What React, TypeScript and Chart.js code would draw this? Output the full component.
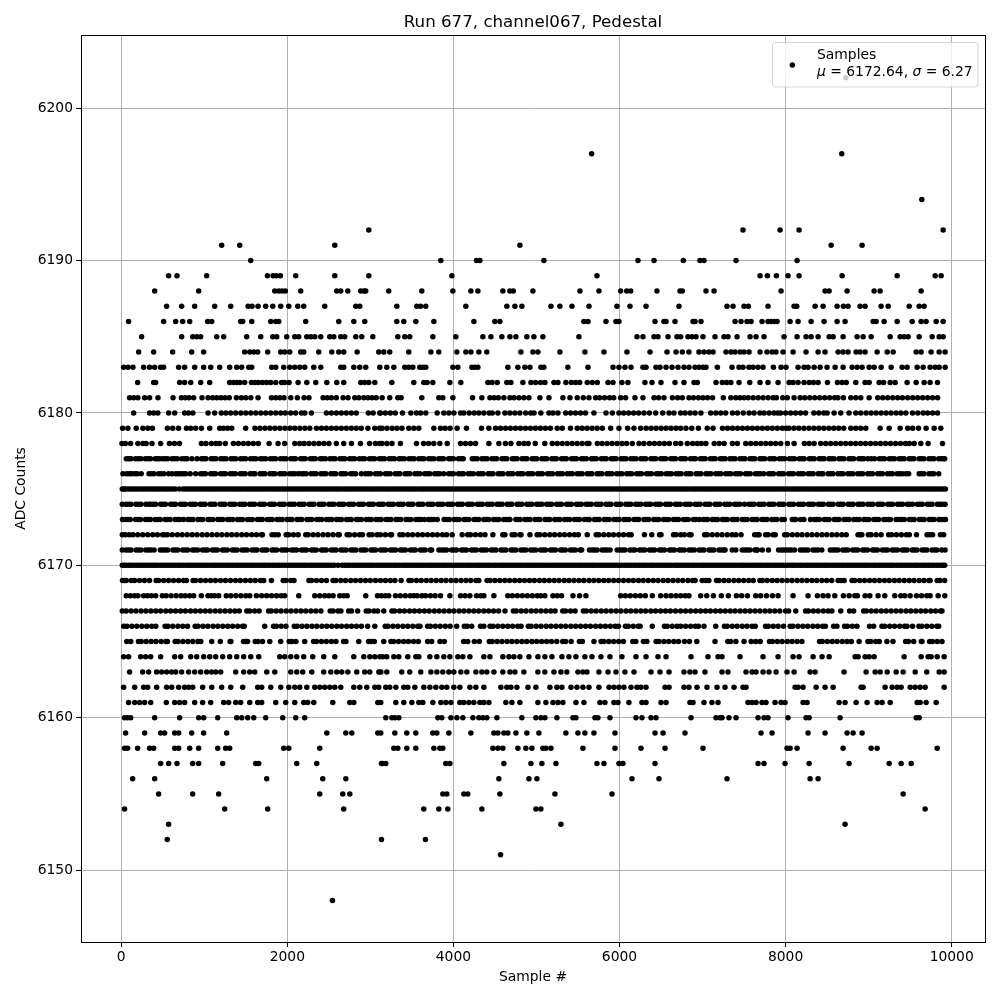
import React, { useEffect, useRef } from "react";
import { Chart, registerables } from "chart.js";

Chart.register(...registerables);

const xTicks = [0, 2000, 4000, 6000, 8000, 10000];
const yTicks = [6150, 6160, 6170, 6180, 6190, 6200];

const r6202 = [8724];
const r6197 = [5664, 8676];
const r6194 = [9640];
const r6192 = [2981, 7487, 7933, 8162, 9897];
const r6191 = [1209, 1426, 2571, 4800, 8548, 8921];
const r6190 = [1559, 3848, 4278, 4318, 5089, 6222, 6415, 6768, 6969, 7017, 7403, 8138];
const r6189 = [570, 671, 1028, 1760, 1828, 1868, 1916, 2101, 2571, 2981, 3981, 5728, 7692, 7780, 7889, 8029, 8162, 8680, 9343, 9801, 9873];
const r6188 = [402, 932, 1848, 1896, 1936, 1976, 2161, 2595, 2643, 2728, 2884, 2924, 2944, 3221, 3619, 3993, 4210, 4294, 4595, 4680, 4720, 4957, 5523, 5752, 6013, 6086, 6134, 6451, 6728, 6756, 7041, 7138, 7945, 8475, 8524, 8740, 9066, 9138, 9632];
const r6187 = [546, 727, 884, 1125, 1318, 1527, 1575, 1647, 1739, 1824, 1920, 2017, 2125, 2197, 2450, 2824, 2872, 3318, 3559, 3603, 3667, 4149, 4643, 4740, 4824, 5174, 5282, 5427, 5632, 5969, 6126, 6319, 6716, 7294, 7367, 7499, 7551, 7788, 8102, 8134, 8355, 8451, 8620, 8696, 8752, 8897, 8957, 9150, 9235, 9488, 9608, 9668];
const r6186 = [88, 510, 655, 739, 824, 1040, 1089, 1438, 1462, 1571, 1800, 1860, 1896, 2221, 2619, 2800, 2932, 3318, 3402, 3547, 3764, 4246, 4499, 4559, 5571, 5620, 5837, 5957, 5993, 6427, 6535, 6560, 6668, 6885, 6909, 6981, 7391, 7463, 7535, 7584, 7716, 7788, 7825, 7861, 7897, 8054, 8150, 8307, 8463, 8620, 8716, 9054, 9090, 9186, 9343, 9524, 9632, 9692, 9813, 9897];
const r6185 = [245, 727, 860, 908, 956, 1149, 1233, 1510, 1679, 1824, 1872, 1992, 2089, 2137, 2234, 2282, 2330, 2402, 2511, 2559, 2643, 2691, 2824, 2896, 3029, 3330, 3414, 3474, 3752, 4029, 4354, 4451, 4583, 4680, 4752, 4884, 4969, 5077, 5511, 6210, 6282, 6415, 6463, 6584, 6692, 6736, 6824, 6873, 6921, 7005, 7150, 7258, 7306, 7415, 7572, 7644, 7740, 7981, 8138, 8246, 8307, 8391, 8524, 8572, 8692, 8861, 8933, 9030, 9259, 9379, 9427, 9476, 9608, 9765, 9849, 9897];
const r6184 = [209, 390, 619, 848, 992, 1486, 1547, 1595, 1643, 1763, 1920, 1968, 2029, 2161, 2197, 2378, 2535, 2619, 2679, 2840, 3101, 3161, 3233, 3462, 3728, 3824, 4041, 4149, 4210, 4306, 4402, 4812, 4957, 5017, 5282, 5583, 5812, 6089, 6367, 6572, 6680, 6756, 6836, 6957, 7017, 7077, 7126, 7282, 7343, 7391, 7451, 7499, 7559, 7692, 7776, 7837, 7885, 7969, 8090, 8246, 8391, 8475, 8632, 8692, 8752, 8849, 8897, 8957, 9102, 9223, 9295, 9572, 9632, 9752, 9849, 9921];
const r6183 = [28, 80, 140, 269, 341, 402, 474, 510, 691, 763, 884, 992, 1077, 1185, 1305, 1390, 1450, 1535, 1571, 1812, 1860, 1956, 2029, 2089, 2149, 2209, 2318, 2402, 2643, 2679, 2800, 2872, 2944, 3113, 3197, 3282, 3414, 3462, 3511, 3595, 3631, 3667, 3993, 4053, 4222, 4258, 4294, 4655, 4776, 4860, 4921, 5053, 5089, 5378, 5620, 5921, 5993, 6065, 6138, 6282, 6319, 6439, 6487, 6560, 6632, 6704, 6776, 6836, 6909, 6957, 7005, 7041, 7178, 7355, 7439, 7487, 7559, 7608, 7668, 7728, 7853, 7945, 8005, 8150, 8222, 8270, 8343, 8415, 8499, 8596, 8692, 8801, 8861, 8921, 9006, 9066, 9150, 9271, 9403, 9463, 9584, 9656, 9740, 9801, 9849, 9921];
const r6182 = [197, 390, 414, 703, 763, 836, 956, 1065, 1305, 1350, 1390, 1430, 1486, 1567, 1610, 1650, 1700, 1750, 1800, 1860, 1930, 1968, 2020, 2129, 2234, 2342, 2475, 2595, 2679, 2884, 2930, 2980, 3053, 3258, 3523, 3643, 3683, 3752, 3957, 4089, 4415, 4465, 4527, 4643, 4692, 4836, 4933, 4989, 5049, 5101, 5210, 5258, 5354, 5419, 5470, 5520, 5611, 5672, 5732, 5861, 5921, 6029, 6101, 6306, 6391, 6499, 6668, 6776, 6897, 6937, 7162, 7238, 7290, 7340, 7439, 7568, 7692, 7788, 7909, 8042, 8090, 8150, 8222, 8283, 8335, 8391, 8504, 8624, 8680, 8730, 8845, 8957, 9006, 9126, 9180, 9259, 9319, 9463, 9572, 9668, 9740, 9829];
const r6181 = [100, 150, 200, 281, 341, 442, 623, 723, 770, 815, 872, 972, 1045, 1100, 1150, 1200, 1250, 1300, 1386, 1446, 1500, 1560, 1647, 1808, 1860, 1910, 1960, 2041, 2121, 2201, 2260, 2430, 2480, 2530, 2590, 2671, 2731, 2812, 2860, 2920, 2970, 3020, 3070, 3141, 3233, 3330, 3370, 3619, 3824, 3872, 3993, 4230, 4342, 4439, 4490, 4540, 4607, 4680, 4730, 4788, 4848, 4909, 5041, 5150, 5318, 5403, 5491, 5563, 5632, 5712, 5760, 5820, 5880, 5930, 6013, 6073, 6186, 6282, 6415, 6470, 6535, 6636, 6700, 6756, 6836, 6890, 6950, 7005, 7060, 7120, 7250, 7340, 7400, 7451, 7500, 7550, 7610, 7670, 7730, 7790, 7850, 7889, 7965, 8020, 8102, 8175, 8230, 8290, 8350, 8410, 8470, 8530, 8590, 8630, 8696, 8785, 8845, 8905, 9006, 9110, 9170, 9230, 9290, 9350, 9406, 9470, 9530, 9590, 9650, 9710, 9770, 9830];
const r6180 = [149, 341, 390, 440, 570, 643, 763, 810, 862, 1045, 1125, 1205, 1260, 1318, 1378, 1440, 1500, 1560, 1620, 1680, 1740, 1800, 1860, 1920, 1975, 2040, 2100, 2170, 2210, 2290, 2470, 2530, 2590, 2650, 2710, 2770, 2830, 2975, 3033, 3113, 3121, 3180, 3240, 3300, 3387, 3487, 3555, 3604, 3667, 3804, 3884, 3945, 4005, 4085, 4125, 4190, 4250, 4306, 4366, 4430, 4467, 4535, 4620, 4680, 4740, 4800, 4870, 4930, 4970, 5053, 5150, 5198, 5258, 5352, 5410, 5470, 5530, 5590, 5692, 5837, 5913, 5993, 6050, 6110, 6170, 6230, 6294, 6360, 6435, 6520, 6596, 6655, 6736, 6790, 6850, 6910, 6980, 7098, 7160, 7218, 7278, 7360, 7420, 7490, 7560, 7620, 7690, 7740, 7801, 7860, 7905, 7940, 8000, 8060, 8120, 8180, 8240, 8340, 8400, 8460, 8500, 8584, 8664, 8764, 8845, 8905, 8969, 9030, 9090, 9150, 9210, 9270, 9331, 9388, 9448, 9528, 9592, 9656, 9710, 9770, 9830];
const r6179 = [16, 80, 180, 260, 320, 375, 555, 620, 690, 785, 835, 895, 965, 1065, 1185, 1230, 1280, 1330, 1498, 1610, 1670, 1730, 1790, 1850, 1910, 1970, 2030, 2090, 2150, 2210, 2270, 2350, 2410, 2470, 2530, 2590, 2650, 2710, 2770, 2830, 2890, 2970, 3053, 3113, 3141, 3200, 3262, 3320, 3380, 3462, 3523, 3583, 3764, 3844, 3900, 3960, 4044, 4157, 4338, 4427, 4507, 4567, 4627, 4687, 4747, 4807, 4867, 4927, 4987, 5047, 5107, 5167, 5250, 5310, 5410, 5491, 5550, 5610, 5670, 5730, 5793, 5893, 5993, 6098, 6174, 6254, 6320, 6380, 6440, 6500, 6560, 6620, 6680, 6736, 6800, 6870, 6950, 7056, 7126, 7240, 7300, 7360, 7420, 7480, 7540, 7600, 7660, 7720, 7780, 7840, 7900, 7960, 8006, 8040, 8100, 8160, 8220, 8280, 8340, 8400, 8460, 8520, 8580, 8640, 8700, 8785, 8845, 8905, 8965, 9138, 9247, 9379, 9470, 9530, 9600, 9692, 9789, 9869];
const r6178 = [8, 50, 112, 200, 260, 300, 370, 474, 580, 640, 700, 965, 1020, 1085, 1140, 1185, 1253, 1350, 1410, 1470, 1530, 1590, 1650, 1780, 1888, 1968, 2090, 2150, 2202, 2260, 2320, 2380, 2440, 2500, 2590, 2679, 2772, 2880, 2990, 3060, 3113, 3141, 3200, 3260, 3362, 3555, 3640, 3700, 3763, 3836, 3925, 4085, 4145, 4205, 4266, 4427, 4547, 4627, 4692, 4788, 4848, 4900, 4985, 5100, 5190, 5250, 5310, 5370, 5430, 5490, 5550, 5610, 5632, 5733, 5790, 5850, 5910, 5970, 6030, 6085, 6154, 6235, 6294, 6360, 6420, 6480, 6540, 6600, 6676, 6736, 6816, 6880, 6936, 6985, 7040, 7140, 7200, 7260, 7359, 7419, 7520, 7580, 7640, 7700, 7760, 7820, 7880, 7941, 8022, 8102, 8226, 8283, 8343, 8423, 8483, 8543, 8603, 8663, 8723, 8783, 8843, 8903, 8963, 9023, 9083, 9143, 9203, 9263, 9323, 9383, 9443, 9490, 9548, 9628, 9716, 9889];
const r6177 = [60, 118, 172, 236, 290, 352, 410, 462, 500, 560, 612, 674, 730, 792, 850, 912, 965, 1020, 1082, 1140, 1198, 1262, 1320, 1378, 1436, 1498, 1556, 1620, 1676, 1738, 1796, 1858, 1916, 1982, 2040, 2098, 2160, 2216, 2278, 2336, 2396, 2458, 2512, 2574, 2632, 2692, 2750, 2810, 2868, 2930, 2988, 3050, 3108, 3168, 3226, 3288, 3346, 3408, 3464, 3526, 3582, 3644, 3702, 3764, 3822, 3880, 3942, 4000, 4060, 4118, 4226, 4286, 4342, 4404, 4462, 4520, 4584, 4642, 4708, 4766, 4826, 4884, 4946, 5002, 5064, 5122, 5184, 5240, 5302, 5360, 5422, 5480, 5542, 5600, 5662, 5720, 5780, 5840, 5900, 5958, 6018, 6078, 6136, 6198, 6256, 6316, 6378, 6436, 6496, 6556, 6616, 6674, 6736, 6794, 6854, 6914, 6974, 7032, 7094, 7152, 7212, 7272, 7330, 7392, 7450, 7510, 7570, 7628, 7690, 7748, 7808, 7868, 7926, 7988, 8046, 8106, 8166, 8224, 8286, 8344, 8404, 8464, 8522, 8584, 8642, 8702, 8762, 8820, 8882, 8942, 8990, 9070, 9130, 9190, 9248, 9310, 9368, 9428, 9488, 9546, 9608, 9666, 9726, 9786, 9844, 9904, 9915];
const r6176 = [20, 66, 124, 190, 240, 334, 394, 450, 512, 570, 610, 656, 716, 776, 830, 896, 956, 1014, 1076, 1134, 1194, 1254, 1312, 1374, 1432, 1492, 1552, 1610, 1672, 1730, 1790, 1850, 1908, 1970, 2028, 2088, 2130, 2166, 2226, 2284, 2346, 2404, 2464, 2524, 2582, 2644, 2702, 2762, 2822, 2890, 2940, 3000, 3060, 3120, 3180, 3238, 3298, 3356, 3418, 3476, 3536, 3596, 3654, 3716, 3774, 3834, 3882, 3942, 4000, 4060, 4120, 4178, 4240, 4298, 4358, 4418, 4476, 4538, 4596, 4656, 4716, 4774, 4836, 4894, 4954, 5014, 5072, 5134, 5192, 5252, 5312, 5370, 5432, 5490, 5550, 5610, 5668, 5730, 5788, 5848, 5908, 5966, 6028, 6086, 6146, 6206, 6264, 6326, 6384, 6444, 6504, 6562, 6624, 6682, 6742, 6802, 6860, 6922, 6980, 7040, 7100, 7158, 7220, 7278, 7340, 7396, 7456, 7516, 7574, 7636, 7694, 7736, 7796, 7854, 7916, 7974, 8034, 8094, 8152, 8214, 8272, 8332, 8392, 8450, 8512, 8570, 8630, 8690, 8748, 8810, 8868, 8928, 8988, 9046, 9108, 9166, 9226, 9286, 9344, 9406, 9450, 9482, 9608, 9666, 9726, 9784, 9844];
const f6176 = [96, 160, 364, 480, 686, 746, 984, 1104, 1224, 1342, 1462, 1582, 1700, 1820, 1938, 2058, 2196, 2316, 2434, 2554, 2672, 2792, 2970, 3090, 3208, 3328, 3448, 3566, 3686, 3804, 3972, 4090, 4208, 4328, 4448, 4566, 4686, 4806, 4924, 5044, 5162, 5282, 5402, 5520, 5640, 5758, 5878, 5998, 6116, 6236, 6354, 6474, 6594, 6712, 6832, 6950, 7070, 7190, 7310, 7426, 7546, 7666, 7826, 7944, 8064, 8184, 8302, 8422, 8540, 8660, 8778, 8898, 9016, 9138, 9256, 9376, 9636, 9756];
const f6177 = [88, 204, 322, 436, 530, 642, 762, 992, 1110, 1230, 1348, 1468, 1588, 1706, 1826, 1950, 2070, 2188, 2306, 2426, 2544, 2662, 2780, 2900, 3020, 3138, 3258, 3376, 3496, 3614, 3732, 3852, 3970, 4090, 4256, 4374, 4490, 4612, 4736, 4856, 4974, 5094, 5212, 5330, 5452, 5570, 5690, 5810, 5928, 6048, 6166, 6286, 6406, 6526, 6646, 6766, 6884, 7002, 7122, 7242, 7360, 7480, 7598, 7718, 7838, 7956, 8076, 8196, 8314, 8434, 8552, 8672, 8792, 8912, 9030, 9160, 9278, 9398, 9516, 9636, 9756, 9874];
const r6175 = [12, 50, 110, 168, 230, 288, 348, 408, 466, 528, 586, 650, 700, 745, 806, 864, 926, 984, 1044, 1104, 1162, 1224, 1282, 1342, 1402, 1460, 1522, 1580, 1640, 1700, 1758, 1820, 1878, 1938, 1998, 2056, 2118, 2176, 2236, 2296, 2354, 2416, 2474, 2534, 2594, 2652, 2714, 2772, 2832, 2892, 2950, 3012, 3070, 3130, 3190, 3248, 3310, 3368, 3428, 3488, 3546, 3608, 3666, 3726, 3786, 3844, 3906, 3964, 4024, 4084, 4142, 4204, 4262, 4322, 4382, 4440, 4502, 4560, 4620, 4680, 4738, 4800, 4858, 4918, 4978, 5036, 5098, 5156, 5216, 5276, 5334, 5396, 5454, 5514, 5574, 5632, 5694, 5752, 5812, 5872, 5930, 5992, 6050, 6110, 6170, 6228, 6290, 6348, 6408, 6468, 6526, 6588, 6646, 6706, 6766, 6824, 6886, 6944, 7004, 7064, 7122, 7184, 7242, 7302, 7362, 7420, 7482, 7540, 7600, 7660, 7718, 7780, 7838, 7898, 7958, 8016, 8078, 8136, 8196, 8256, 8314, 8376, 8434, 8494, 8554, 8612, 8674, 8732, 8792, 8852, 8910, 8972, 9030, 9090, 9150, 9208, 9270, 9328, 9388, 9448, 9506, 9568, 9626, 9686, 9746, 9804, 9866, 9924];
const f6175 = [30, 80, 140, 198, 260, 318, 378, 436, 498, 556, 618, 776, 834, 896, 954, 1014, 1074, 1132, 1194, 1252, 1312, 1372, 1430, 1492, 1550, 1610, 1670, 1728, 1790, 1848, 1908, 1968, 2026, 2088, 2146, 2206, 2266, 2324, 2386, 2444, 2504, 2564, 2622, 2684, 2742, 2802, 2862, 2920, 2982, 3040, 3100, 3160, 3218, 3280, 3338, 3398, 3458, 3516, 3578, 3636, 3696, 3756, 3814, 3876, 3934, 3994, 4054, 4112, 4174, 4232, 4292, 4352, 4410, 4472, 4530, 4590, 4650, 4708, 4770, 4828, 4888, 4948, 5006, 5068, 5126, 5186, 5246, 5304, 5366, 5424, 5484, 5544, 5602, 5664, 5722, 5782, 5842, 5900, 5962, 6020, 6080, 6140, 6198, 6260, 6318, 6378, 6438, 6496, 6558, 6616, 6676, 6736, 6794, 6856, 6914, 6974, 7034, 7092, 7154, 7212, 7272, 7332, 7390, 7452, 7510, 7570, 7630, 7688, 7750, 7808, 7868, 7928, 7986, 8048, 8106, 8166, 8226, 8284, 8346, 8404, 8464, 8524, 8582, 8644, 8702, 8762, 8822, 8880, 8942, 9000, 9060, 9120, 9178, 9240, 9298, 9358, 9418, 9476, 9538, 9596, 9656, 9716, 9774, 9836, 9895];
const r6174 = [12, 56, 116, 176, 236, 296, 330, 354, 414, 474, 532, 594, 652, 712, 772, 830, 892, 950, 1010, 1070, 1128, 1190, 1248, 1308, 1368, 1426, 1488, 1546, 1606, 1666, 1724, 1786, 1844, 1904, 1964, 2022, 2084, 2142, 2202, 2262, 2320, 2382, 2440, 2500, 2560, 2618, 2680, 2738, 2798, 2858, 2916, 2978, 3036, 3096, 3156, 3214, 3276, 3334, 3394, 3454, 3512, 3574, 3632, 3692, 3752, 3810, 3872, 3930, 3990, 4050, 4108, 4170, 4228, 4288, 4348, 4406, 4468, 4526, 4586, 4646, 4704, 4766, 4824, 4884, 4944, 5002, 5064, 5122, 5182, 5242, 5300, 5362, 5420, 5480, 5540, 5598, 5660, 5718, 5778, 5838, 5896, 5958, 6016, 6076, 6136, 6194, 6256, 6314, 6374, 6434, 6492, 6554, 6612, 6672, 6732, 6790, 6852, 6910, 6970, 7030, 7088, 7150, 7208, 7268, 7328, 7386, 7448, 7506, 7560, 7620, 7678, 7740, 7798, 7858, 7918, 7976, 8038, 8096, 8156, 8216, 8274, 8336, 8394, 8454, 8514, 8572, 8634, 8692, 8752, 8812, 8870, 8932, 8990, 9050, 9110, 9168, 9230, 9288, 9348, 9408, 9466, 9528, 9586, 9646, 9706, 9764, 9826, 9884, 9920];
const f6174 = [86, 206, 384, 502, 622, 742, 860, 980, 1100, 1218, 1338, 1456, 1576, 1696, 1814, 1934, 2052, 2172, 2292, 2410, 2530, 2648, 2768, 2888, 3006, 3126, 3244, 3364, 3484, 3602, 3722, 3840, 3960, 4080, 4198, 4318, 4436, 4556, 4676, 4794, 4914, 5032, 5152, 5272, 5390, 5510, 5628, 5748, 5868, 5986, 6106, 6224, 6344, 6464, 6582, 6702, 6820, 6940, 7060, 7178, 7298, 7416, 7590, 7708, 7828, 7946, 8066, 8186, 8304, 8424, 8542, 8662, 8782, 8900, 9020, 9138, 9258, 9378, 9496, 9616, 9734, 9854];
const r6173 = [15, 52, 108, 172, 230, 290, 350, 408, 470, 528, 588, 648, 706, 750, 804, 864, 924, 982, 1044, 1102, 1162, 1222, 1280, 1342, 1400, 1460, 1520, 1578, 1640, 1698, 1758, 1818, 1876, 1938, 1996, 2056, 2116, 2174, 2236, 2294, 2354, 2414, 2472, 2534, 2592, 2652, 2712, 2770, 2832, 2890, 2950, 3010, 3068, 3130, 3188, 3248, 3308, 3366, 3428, 3486, 3546, 3606, 3650, 3700, 3760, 3805, 3888, 3950, 4008, 4068, 4128, 4186, 4248, 4306, 4366, 4426, 4484, 4546, 4604, 4664, 4680, 4752, 4804, 4862, 4922, 4982, 5040, 5102, 5160, 5220, 5280, 5338, 5400, 5458, 5518, 5578, 5636, 5698, 5756, 5816, 5876, 5934, 5996, 6054, 6114, 6174, 6232, 6294, 6352, 6412, 6472, 6530, 6592, 6650, 6710, 6770, 6828, 6890, 6960, 7010, 7060, 7118, 7180, 7238, 7298, 7358, 7416, 7478, 7536, 7596, 7656, 7714, 7776, 7834, 7894, 7954, 7985, 8080, 8120, 8220, 8300, 8346, 8406, 8466, 8524, 8586, 8644, 8704, 8764, 8822, 8884, 8942, 9002, 9062, 9120, 9182, 9240, 9262, 9330, 9370, 9430, 9490, 9548, 9610, 9668, 9728, 9788, 9846, 9908, 9925];
const f6173 = [80, 200, 320, 438, 558, 676, 834, 952, 1072, 1190, 1310, 1430, 1548, 1668, 1788, 1906, 2026, 2144, 2264, 2384, 2502, 2622, 2740, 2860, 2980, 3098, 3218, 3336, 3456, 3576, 3730, 3918, 4038, 4156, 4276, 4396, 4514, 4634, 4778, 4892, 5012, 5130, 5250, 5370, 5488, 5608, 5726, 5846, 5964, 6084, 6204, 6322, 6442, 6560, 6680, 6800, 6918, 7034, 7148, 7268, 7388, 7506, 7626, 7744, 7864, 8108, 8180, 8376, 8494, 8614, 8734, 8852, 8972, 9090, 9210, 9400, 9518, 9638, 9758, 9876];
const r6172 = [12, 50, 95, 140, 198, 258, 318, 378, 436, 498, 520, 556, 614, 676, 734, 794, 854, 912, 974, 1032, 1092, 1152, 1210, 1272, 1330, 1390, 1450, 1508, 1570, 1628, 1688, 1700, 1815, 1850, 1890, 1985, 2016, 2074, 2130, 2222, 2250, 2310, 2368, 2430, 2488, 2548, 2608, 2625, 2720, 2750, 2810, 2870, 2905, 2985, 3020, 3080, 3121, 3180, 3240, 3255, 3355, 3390, 3450, 3508, 3570, 3628, 3688, 3748, 3806, 3868, 3918, 3985, 4105, 4172, 4205, 4265, 4325, 4380, 4475, 4594, 4620, 4707, 4740, 4800, 4813, 4921, 5008, 5040, 5100, 5160, 5218, 5280, 5338, 5398, 5458, 5504, 5611, 5719, 5750, 5810, 5870, 5928, 5990, 6048, 6108, 6140, 6300, 6388, 6482, 6500, 6650, 6680, 6736, 6780, 6840, 6862, 7024, 7056, 7116, 7176, 7234, 7296, 7354, 7400, 7463, 7627, 7660, 7681, 7759, 7790, 7850, 7875, 7988, 8020, 8080, 8140, 8198, 8260, 8318, 8378, 8438, 8496, 8558, 8616, 8676, 8730, 8872, 8900, 8918, 8996, 9030, 9090, 9150, 9240, 9276, 9334, 9394, 9454, 9490, 9576, 9703, 9736, 9770, 9864, 9903];
const r6171 = [12, 58, 118, 178, 238, 296, 358, 395, 470, 502, 560, 622, 680, 740, 800, 858, 920, 978, 1038, 1098, 1156, 1218, 1276, 1336, 1396, 1454, 1516, 1574, 1634, 1694, 1752, 1814, 1872, 1932, 1992, 2050, 2112, 2170, 2230, 2290, 2348, 2410, 2468, 2528, 2588, 2646, 2708, 2766, 2826, 2886, 2944, 3006, 3064, 3124, 3184, 3242, 3304, 3362, 3422, 3482, 3540, 3602, 3660, 3720, 3737, 3825, 3858, 3918, 3978, 4036, 4098, 4156, 4216, 4276, 4334, 4396, 4454, 4514, 4574, 4632, 4694, 4752, 4812, 4872, 4930, 4992, 5050, 5110, 5170, 5228, 5290, 5348, 5408, 5468, 5526, 5544, 5638, 5672, 5730, 5790, 5850, 5886, 5972, 6006, 6064, 6124, 6184, 6242, 6304, 6362, 6422, 6482, 6540, 6602, 6660, 6720, 6780, 6838, 6900, 6958, 7018, 7078, 7136, 7198, 7256, 7271, 7357, 7400, 7478, 7510, 7570, 7630, 7653, 7719, 7793, 7916, 7950, 8010, 8070, 8107, 8177, 8210, 8270, 8330, 8390, 8436, 8538, 8570, 8630, 8688, 8750, 8808, 8868, 8928, 8986, 9048, 9106, 9166, 9226, 9284, 9346, 9404, 9464, 9524, 9582, 9644, 9702, 9762, 9822, 9880, 9920];
const f6171 = [88, 208, 328, 530, 650, 770, 888, 1008, 1128, 1246, 1366, 1484, 1604, 1724, 1842, 1962, 2080, 2200, 2320, 2438, 2558, 2676, 2796, 2916, 3034, 3154, 3272, 3392, 3512, 3630, 3888, 4006, 4126, 4246, 4364, 4484, 4602, 4722, 4842, 4960, 5080, 5198, 5318, 5438, 5700, 5820, 6034, 6154, 6272, 6392, 6510, 6630, 6750, 6868, 6988, 7106, 7226, 7540, 7660, 7980, 8040, 8240, 8360, 8600, 8718, 8838, 8956, 9076, 9196, 9314, 9434, 9552, 9672, 9792];
const r6170 = [12, 60, 118, 180, 238, 298, 358, 416, 478, 536, 596, 656, 714, 776, 834, 894, 954, 1012, 1074, 1132, 1192, 1252, 1310, 1372, 1430, 1490, 1550, 1608, 1670, 1728, 1788, 1848, 1906, 1968, 2026, 2086, 2146, 2204, 2266, 2324, 2384, 2444, 2502, 2564, 2610, 2660, 2720, 2782, 2840, 2900, 2960, 3018, 3080, 3138, 3198, 3258, 3316, 3378, 3436, 3496, 3556, 3614, 3676, 3734, 3794, 3854, 3912, 3974, 4032, 4092, 4152, 4210, 4272, 4330, 4390, 4450, 4508, 4570, 4628, 4688, 4748, 4806, 4868, 4926, 4986, 5046, 5104, 5166, 5224, 5284, 5344, 5402, 5464, 5522, 5582, 5642, 5700, 5762, 5820, 5880, 5940, 5998, 6060, 6118, 6178, 6238, 6296, 6358, 6416, 6476, 6536, 6594, 6656, 6714, 6774, 6834, 6892, 6954, 7012, 7072, 7132, 7190, 7252, 7310, 7370, 7430, 7488, 7550, 7608, 7668, 7728, 7786, 7848, 7906, 7966, 8026, 8084, 8146, 8204, 8264, 8324, 8382, 8444, 8502, 8562, 8622, 8680, 8742, 8800, 8860, 8920, 8978, 9040, 9098, 9158, 9218, 9276, 9338, 9396, 9456, 9516, 9574, 9636, 9694, 9754, 9814, 9872, 9915];
const f6170 = [36, 90, 148, 210, 268, 328, 388, 446, 508, 566, 626, 686, 744, 806, 864, 924, 984, 1042, 1104, 1162, 1222, 1282, 1340, 1402, 1460, 1520, 1580, 1638, 1700, 1758, 1818, 1878, 1936, 1998, 2056, 2116, 2176, 2234, 2296, 2354, 2414, 2474, 2532, 2690, 2750, 2812, 2870, 2930, 2990, 3048, 3110, 3168, 3228, 3288, 3346, 3408, 3466, 3526, 3586, 3644, 3706, 3764, 3824, 3884, 3942, 4004, 4062, 4122, 4182, 4240, 4302, 4360, 4420, 4480, 4538, 4600, 4658, 4718, 4778, 4836, 4898, 4956, 5016, 5076, 5134, 5196, 5254, 5314, 5374, 5432, 5494, 5552, 5612, 5672, 5730, 5792, 5850, 5910, 5970, 6028, 6090, 6148, 6208, 6268, 6326, 6388, 6446, 6506, 6566, 6624, 6686, 6744, 6804, 6864, 6922, 6984, 7042, 7102, 7162, 7220, 7282, 7340, 7400, 7460, 7518, 7580, 7638, 7698, 7758, 7816, 7878, 7936, 7996, 8056, 8114, 8176, 8234, 8294, 8354, 8412, 8474, 8532, 8592, 8652, 8710, 8772, 8830, 8890, 8950, 9008, 9070, 9128, 9188, 9248, 9306, 9368, 9426, 9486, 9546, 9604, 9666, 9724, 9784, 9844, 9895];
const r6169 = [15, 40, 60, 120, 160, 220, 280, 340, 420, 450, 510, 570, 630, 690, 750, 785, 865, 895, 955, 1015, 1075, 1133, 1195, 1255, 1315, 1375, 1433, 1495, 1555, 1613, 1675, 1715, 1808, 1950, 1980, 2040, 2080, 2260, 2290, 2350, 2410, 2470, 2550, 2583, 2643, 2701, 2763, 2821, 2881, 2941, 2999, 3061, 3121, 3180, 3240, 3295, 3370, 3465, 3494, 3554, 3612, 3674, 3732, 3792, 3852, 3910, 3972, 4030, 4090, 4150, 4208, 4270, 4305, 4405, 4440, 4498, 4558, 4618, 4676, 4738, 4796, 4856, 4916, 4974, 5036, 5094, 5154, 5214, 5272, 5334, 5392, 5452, 5512, 5570, 5632, 5690, 5750, 5810, 5868, 5930, 5988, 6048, 6108, 6166, 6228, 6286, 6346, 6406, 6464, 6526, 6584, 6644, 6704, 6762, 6824, 6880, 6910, 6995, 7040, 7076, 7168, 7198, 7258, 7316, 7378, 7436, 7496, 7556, 7610, 7690, 7720, 7778, 7840, 7898, 7958, 8018, 8076, 8138, 8196, 8256, 8316, 8374, 8436, 8494, 8555, 8632, 8664, 8705, 8800, 8832, 8892, 8950, 9012, 9070, 9130, 9190, 9248, 9310, 9368, 9428, 9488, 9546, 9608, 9666, 9726, 9740, 9825, 9858, 9915];
const r6168 = [60, 110, 160, 201, 269, 315, 361, 414, 494, 540, 600, 660, 720, 770, 824, 872, 964, 1044, 1085, 1125, 1173, 1265, 1320, 1380, 1440, 1500, 1547, 1627, 1690, 1750, 1810, 1870, 1925, 1968, 2137, 2330, 2390, 2450, 2500, 2551, 2631, 2680, 2720, 2944, 3085, 3130, 3180, 3221, 3302, 3360, 3420, 3480, 3523, 3563, 3620, 3663, 3723, 3780, 3844, 3957, 4085, 4140, 4198, 4278, 4330, 4366, 4487, 4655, 4710, 4770, 4830, 4890, 4950, 5009, 5050, 5101, 5198, 5250, 5302, 5439, 5519, 5595, 6013, 6070, 6130, 6190, 6250, 6310, 6395, 6495, 6560, 6620, 6680, 6736, 6790, 6836, 6977, 7050, 7130, 7226, 7310, 7407, 7470, 7540, 7640, 7700, 7770, 7841, 7909, 8090, 8270, 8383, 8450, 8511, 8592, 8696, 8765, 8833, 8865, 8957, 9014, 9114, 9194, 9315, 9387, 9435, 9500, 9576, 9636, 9700, 9740, 9837, 9917];
const r6167 = [12, 58, 118, 176, 238, 296, 356, 416, 474, 536, 594, 654, 714, 772, 834, 892, 952, 1012, 1070, 1132, 1190, 1250, 1310, 1368, 1420, 1512, 1546, 1606, 1660, 1773, 1806, 1866, 1924, 1986, 2044, 2104, 2164, 2222, 2284, 2342, 2404, 2516, 2550, 2610, 2645, 2737, 2772, 2846, 2950, 2984, 3044, 3087, 3161, 3259, 3292, 3352, 3410, 3472, 3530, 3590, 3650, 3708, 3770, 3828, 3888, 3948, 4006, 4068, 4126, 4186, 4246, 4304, 4366, 4424, 4484, 4544, 4621, 4722, 4756, 4816, 4874, 4936, 4994, 5054, 5114, 5172, 5224, 5316, 5350, 5410, 5465, 5565, 5600, 5660, 5718, 5780, 5838, 5898, 5958, 6016, 6078, 6136, 6196, 6256, 6314, 6376, 6434, 6494, 6554, 6612, 6674, 6736, 6796, 6856, 6917, 6976, 7036, 7094, 7156, 7214, 7274, 7334, 7392, 7454, 7512, 7572, 7632, 7690, 7752, 7810, 7870, 7930, 8000, 8036, 8122, 8240, 8274, 8334, 8392, 8454, 8512, 8558, 8664, 8770, 8819, 8939, 8972, 9032, 9090, 9152, 9210, 9270, 9330, 9388, 9450, 9508, 9568, 9628, 9686, 9748, 9806, 9866, 9883];
const r6166 = [30, 68, 128, 186, 248, 306, 366, 416, 528, 562, 620, 682, 740, 798, 890, 924, 984, 1042, 1104, 1162, 1222, 1282, 1340, 1402, 1460, 1481, 1727, 1834, 1868, 1926, 1983, 2083, 2118, 2176, 2236, 2296, 2354, 2416, 2474, 2534, 2594, 2652, 2714, 2772, 2832, 2892, 2967, 3053, 3179, 3212, 3272, 3330, 3392, 3450, 3510, 3570, 3597, 3689, 3722, 3782, 3840, 3902, 3960, 4039, 4131, 4165, 4220, 4326, 4366, 4441, 4476, 4534, 4594, 4654, 4712, 4774, 4814, 4902, 4936, 4996, 5054, 5116, 5174, 5234, 5294, 5352, 5414, 5472, 5532, 5592, 5650, 5712, 5770, 5830, 5890, 5948, 5987, 6071, 6105, 6165, 6224, 6248, 6395, 6541, 6575, 6635, 6693, 6736, 6796, 6856, 6914, 6951, 7017, 7158, 7264, 7298, 7358, 7416, 7478, 7536, 7596, 7634, 7758, 7792, 7852, 7910, 7975, 8055, 8088, 8148, 8208, 8266, 8328, 8386, 8446, 8478, 8578, 8618, 8710, 8744, 8804, 8859, 9011, 9060, 9160, 9194, 9254, 9312, 9374, 9432, 9462, 9528, 9606, 9640, 9700, 9760, 9820, 9843];
const r6165 = [66, 114, 207, 240, 300, 360, 418, 480, 538, 556, 649, 682, 742, 802, 860, 922, 958, 1089, 1193, 1311, 1320, 1472, 1500, 1521, 1613, 1646, 1701, 1788, 1920, 2022, 2056, 2103, 2209, 2316, 2350, 2410, 2470, 2530, 2585, 2677, 2705, 2860, 2978, 3012, 3047, 3161, 3247, 3280, 3340, 3400, 3458, 3520, 3577, 3689, 3738, 3838, 3890, 4123, 4172, 4252, 4312, 4432, 4466, 4526, 4584, 4646, 4704, 4764, 4824, 4882, 4944, 5002, 5062, 5122, 5180, 5244, 5316, 5350, 5417, 5517, 5553, 5692, 5778, 5810, 5870, 5930, 5990, 6047, 6160, 6196, 6288, 6329, 6441, 6474, 6534, 6592, 6654, 6710, 6782, 6842, 6931, 7150, 7304, 7338, 7401, 7499, 7585, 7640, 7694, 7806, 7840, 7900, 7958, 8020, 8078, 8138, 8196, 8409, 8442, 8502, 8562, 8620, 8682, 8740, 8791, 8885, 8991, 9025, 9085, 9128, 9220, 9293, 9445, 9478, 9542, 9634, 9642, 9734, 9768, 9826, 9883];
const r6164 = [28, 88, 233, 293, 354, 474, 643, 715, 836, 908, 992, 1065, 1137, 1221, 1305, 1390, 1474, 1559, 1655, 1908, 1968, 2041, 2113, 2197, 2306, 2438, 2571, 2800, 2920, 2993, 3053, 3113, 3149, 3197, 3282, 3342, 3450, 3547, 3583, 3716, 3800, 3884, 3957, 4053, 4113, 4198, 4366, 4439, 4595, 4668, 4728, 4800, 4909, 5017, 5101, 5186, 5306, 5390, 5475, 5583, 5668, 5776, 5885, 6029, 6198, 6319, 6463, 6560, 6861, 7065, 7186, 7234, 7451, 7728, 7909, 8090, 8162, 8331, 8439, 8524, 8837, 8873, 8957, 9006, 9066, 9427, 9632, 9716, 9752, 9825, 9909];
const r6163 = [100, 257, 329, 426, 486, 546, 607, 655, 727, 811, 884, 956, 1028, 1089, 1137, 1197, 1378, 1474, 1547, 1607, 1751, 1848, 2041, 2113, 2185, 2294, 2438, 2523, 2595, 2655, 2728, 2836, 2932, 2993, 3101, 3125, 3197, 3378, 3474, 3607, 3728, 3800, 3872, 3945, 4005, 4089, 4161, 4270, 4342, 4402, 4487, 4595, 4680, 4740, 4848, 5017, 5101, 5210, 5294, 5366, 5499, 5559, 5608, 5752, 5861, 5957, 6065, 6174, 6379, 6487, 6596, 6776, 6848, 6909, 7029, 7234, 7306, 7523, 7596, 7644, 7728, 7800, 7885, 8017, 8102, 8295, 8355, 8704, 8969, 9078, 9138, 9223, 9331, 9415, 9560, 9700, 9849, 9909];
const r6162 = [28, 161, 269, 317, 426, 546, 607, 691, 763, 811, 860, 980, 1089, 1209, 1318, 1462, 1643, 1691, 1800, 1920, 2017, 2089, 2149, 2234, 2330, 2390, 2450, 2511, 2571, 2643, 2800, 2872, 2956, 3053, 3101, 3185, 3233, 3306, 3402, 3450, 3535, 3643, 3716, 3788, 3860, 3920, 4005, 4077, 4198, 4270, 4366, 4571, 4643, 4692, 4764, 4897, 4993, 5162, 5246, 5306, 5415, 5487, 5559, 5632, 5752, 5873, 5933, 5993, 6053, 6138, 6210, 6258, 6319, 6548, 6596, 6776, 6836, 6933, 7053, 7174, 7270, 7379, 7487, 7523, 8114, 8150, 8210, 8367, 8475, 8572, 8909, 8933, 9198, 9283, 9343, 9391, 9500, 9560, 9620, 9680, 9909];
const r6161 = [88, 161, 221, 281, 354, 542, 643, 703, 763, 884, 980, 1077, 1233, 1293, 1378, 1438, 1547, 1643, 1691, 1860, 1980, 2089, 2197, 2245, 2318, 2547, 2752, 2800, 3089, 3125, 3306, 3402, 3499, 3583, 3631, 3752, 3848, 3908, 3969, 4077, 4125, 4186, 4246, 4318, 4366, 4427, 4631, 4704, 4800, 5017, 5113, 5198, 5258, 5318, 5475, 5571, 5764, 5824, 5933, 5981, 6113, 6270, 6319, 6499, 6560, 6848, 6885, 7017, 7113, 7186, 7547, 7596, 7644, 7716, 7764, 7873, 7945, 7993, 8210, 8258, 8644, 8716, 8849, 8981, 9102, 9162, 9259, 9584, 9620, 9692, 9813];
const r6160 = [40, 76, 113, 402, 703, 932, 992, 1161, 1390, 1450, 1522, 1595, 1739, 1944, 2101, 2209, 3185, 3258, 3294, 3342, 3812, 3860, 3969, 4041, 4113, 4234, 4306, 4354, 4402, 4523, 4824, 4993, 5053, 5101, 5246, 5439, 5475, 5704, 5740, 5885, 6198, 6270, 6379, 6439, 6861, 7162, 7210, 7234, 7318, 7403, 7668, 7740, 7788, 8029, 8246, 8283, 8656, 9572, 9608];
const r6159 = [52, 281, 474, 522, 643, 691, 848, 992, 1269, 2475, 2704, 2776, 3089, 3125, 3294, 3438, 3547, 3752, 3800, 3945, 4210, 4487, 4535, 4607, 4655, 4752, 4884, 5029, 5354, 5499, 5583, 5692, 5945, 6427, 6524, 6788, 7704, 7837, 8270, 8475, 8740, 8813, 8921];
const r6158 = [40, 76, 197, 341, 390, 643, 691, 824, 932, 1161, 1257, 1305, 1956, 2017, 2390, 3282, 3330, 3438, 3547, 3764, 3836, 3872, 4475, 4535, 4595, 4776, 4872, 4945, 5077, 5113, 5174, 5559, 5945, 6258, 6548, 7005, 8017, 8054, 8138, 8692, 9030, 9102, 9825];
const r6157 = [474, 570, 671, 860, 932, 1221, 1619, 1655, 2113, 2354, 3133, 3149, 3185, 3908, 3957, 4607, 4933, 5065, 5234, 5728, 5812, 5993, 6041, 6427, 7668, 7740, 7993, 8283, 8764, 9247, 9391, 9512];
const r6156 = [137, 402, 1751, 2426, 2704, 4547, 4909, 5005, 6150, 6475, 7294, 8295, 8391];
const r6155 = [450, 860, 1173, 2390, 2667, 2752, 3872, 3920, 4125, 4173, 4559, 5222, 5909, 9415];
const r6154 = [40, 1245, 1763, 2679, 3643, 3824, 3932, 4342, 4993, 5053, 9680];
const r6153 = [570, 5294, 8716];
const r6152 = [554, 3133, 3663];
const r6151 = [4567];
const r6148 = [2543];

const rows: [number, number[]][] = [
  [6202, r6202], [6197, r6197], [6194, r6194], [6192, r6192], [6191, r6191], [6190, r6190],
  [6189, r6189], [6188, r6188], [6187, r6187], [6186, r6186], [6185, r6185], [6184, r6184],
  [6183, r6183], [6182, r6182], [6181, r6181], [6180, r6180], [6179, r6179], [6178, r6178],
  [6177, r6177], [6177, f6177], [6176, r6176], [6176, f6176], [6175, r6175], [6175, f6175],
  [6174, r6174], [6174, f6174], [6173, r6173], [6173, f6173], [6172, r6172], [6171, r6171],
  [6171, f6171], [6170, r6170], [6170, f6170], [6169, r6169], [6168, r6168], [6167, r6167],
  [6166, r6166], [6165, r6165], [6164, r6164], [6163, r6163], [6162, r6162], [6161, r6161],
  [6160, r6160], [6159, r6159], [6158, r6158], [6157, r6157], [6156, r6156], [6155, r6155],
  [6154, r6154], [6153, r6153], [6152, r6152], [6151, r6151], [6148, r6148],
];

const FONT = "'DejaVu Sans'";

const framePlugin = {
  id: "frameAndLegend",
  afterDraw(chart: any) {
    const { ctx, chartArea: a } = chart;
    ctx.save();
    ctx.strokeStyle = "#000";
    ctx.lineWidth = 1;
    ctx.strokeRect(Math.round(a.left) + 0.5, Math.round(a.top) + 0.5, Math.round(a.right - a.left), Math.round(a.bottom - a.top));

    ctx.beginPath();
    ctx.roundRect(772.5, 42.5, 205.5, 44.5, 3);
    ctx.fillStyle = "rgba(255,255,255,0.8)";
    ctx.fill();
    ctx.strokeStyle = "rgba(204,204,204,0.8)";
    ctx.stroke();

    ctx.fillStyle = "#000";
    ctx.beginPath();
    ctx.arc(792.3, 65, 2.7, 0, Math.PI * 2);
    ctx.fill();

    ctx.textBaseline = "alphabetic";
    ctx.textAlign = "left";
    const y2 = 76;
    let x = 817;
    const put = (s: string, style: string) => {
      ctx.font = `${style}13.89px ${FONT}`;
      ctx.fillText(s, x, y2);
      x += ctx.measureText(s).width;
    };
    ctx.font = `13.89px ${FONT}`;
    ctx.fillText("Samples", x, 59);
    put("μ", "italic ");
    put(" = 6172.64, ", "");
    put("σ", "italic ");
    put(" = 6.27", "");
    ctx.restore();
  },
};

export default function App() {
  const ref = useRef<HTMLCanvasElement>(null);
  useEffect(() => {
    const points = rows.flatMap(([adc, xs]) => xs.map((x) => ({ x, y: adc })));
    const chart = new Chart(ref.current!, {
      type: "scatter",
      data: {
        datasets: [
          {
            label: "Samples",
            data: points,
            pointRadius: 2.75,
            pointBackgroundColor: "#000",
            pointBorderWidth: 0,
            pointHoverRadius: 2.75,
          },
        ],
      },
      options: {
        animation: false,
        responsive: false,
        devicePixelRatio: 1,
        layout: { padding: { left: 0, right: 15, top: 0, bottom: 0 } },
        plugins: {
          legend: { display: false },
          tooltip: { enabled: false },
          title: {
            display: true,
            fullSize: false,
            text: "Run 677, channel067, Pedestal",
            color: "#000",
            font: { family: FONT, size: 16.67, weight: "normal", lineHeight: 1.2 },
            padding: { top: 13, bottom: 2 },
          },
        },
        scales: {
          x: {
            type: "linear",
            min: -485,
            max: 10401,
            afterFit(s: any) { s.height = 58; },
            afterBuildTicks(s: any) { s.ticks = xTicks.map((value) => ({ value })); },
            grid: { color: "#b0b0b0", lineWidth: 1, tickColor: "#000", tickLength: 5 },
            border: { color: "#000", width: 1 },
            ticks: { color: "#000", maxRotation: 0, padding: 2, font: { family: FONT, size: 13.89 }, callback: (v: any) => String(v) },
            title: { display: true, text: "Sample #", color: "#000", font: { family: FONT, size: 13.89 }, padding: { top: 0, bottom: 14.7 } },
          },
          y: {
            type: "linear",
            min: 6145.28,
            max: 6204.8,
            afterFit(s: any) { s.width = 81; },
            afterBuildTicks(s: any) { s.ticks = yTicks.map((value) => ({ value })); },
            grid: { color: "#b0b0b0", lineWidth: 1, tickColor: "#000", tickLength: 5 },
            border: { color: "#000", width: 1 },
            ticks: { color: "#000", padding: 3, font: { family: FONT, size: 13.89 }, callback: (v: any) => String(v) },
            title: { display: true, text: "ADC Counts", color: "#000", font: { family: FONT, size: 13.89 }, padding: { top: 12.7, bottom: 0 } },
          },
        },
      },
      plugins: [framePlugin],
    } as any);
    return () => chart.destroy();
  }, []);
  return (
    <canvas
      ref={ref}
      width={1000}
      height={1000}
      style={{ position: "absolute", left: 0, top: 0, width: 1000, height: 1000, display: "block" }}
    />
  );
}
